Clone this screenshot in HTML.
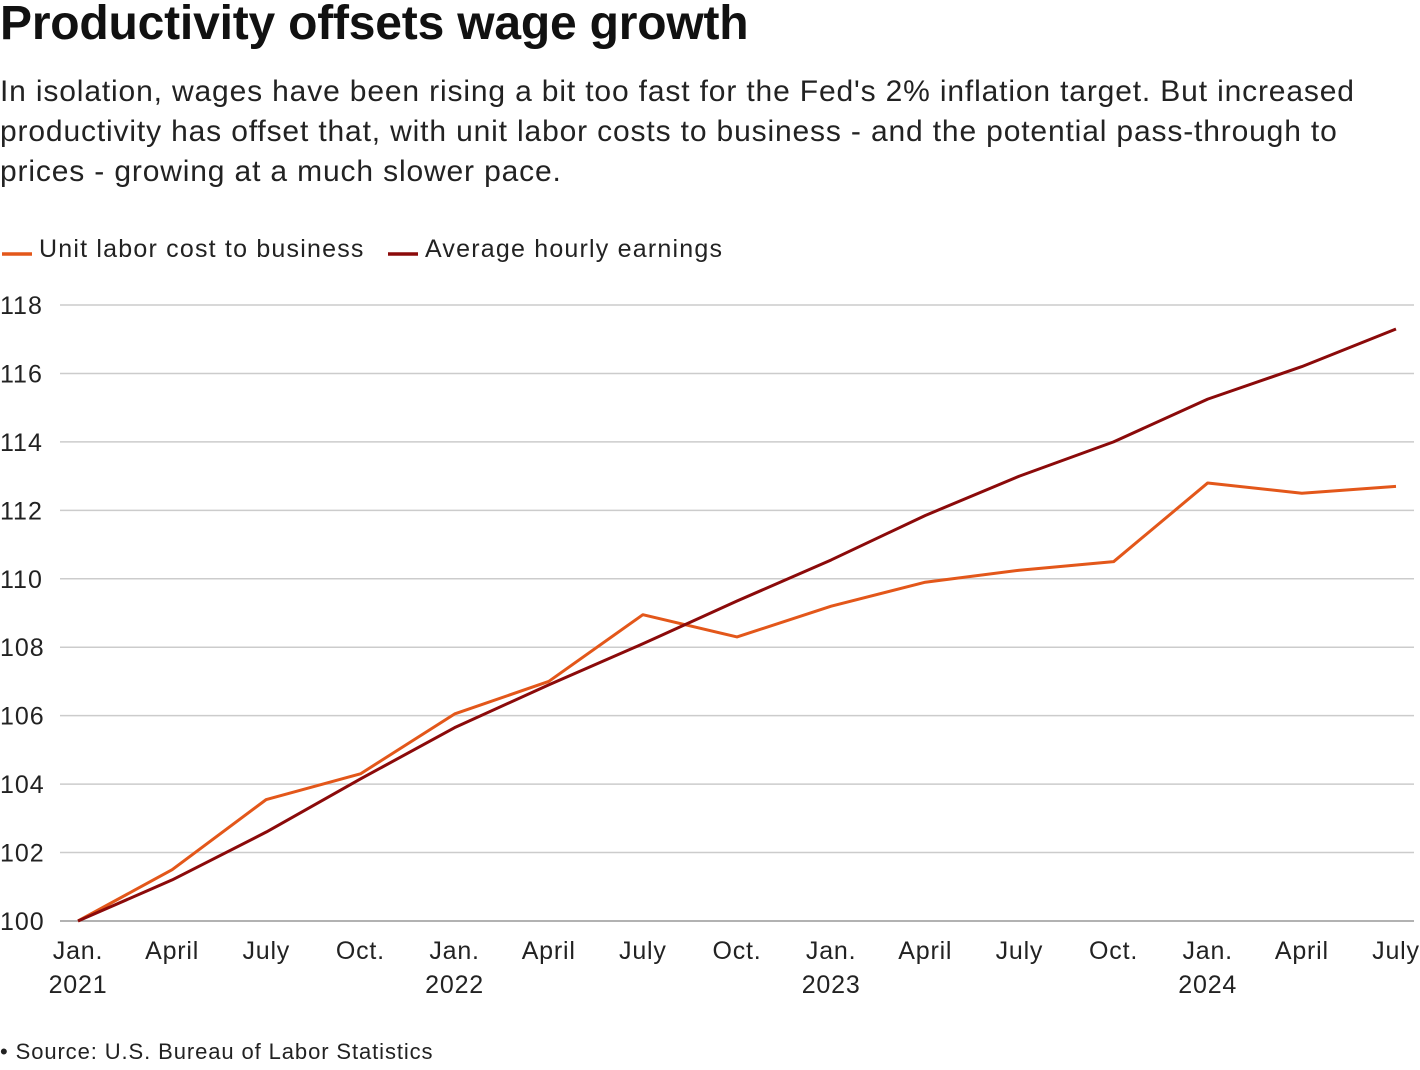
<!DOCTYPE html>
<html><head><meta charset="utf-8">
<style>
body{margin:0;background:#fff;font-family:"Liberation Sans",Arial,sans-serif;color:#111;}
#wrap{position:relative;width:1420px;height:1070px;overflow:hidden;}
h1{position:absolute;left:0;top:-4px;margin:0;font-size:48px;font-weight:bold;letter-spacing:-0.2px;}
.sub{position:absolute;left:0;top:72px;margin:0;font-size:30px;letter-spacing:0.85px;line-height:40px;color:#222;width:1400px;}
.src{position:absolute;left:0;top:1039px;font-size:22px;letter-spacing:0.9px;color:#222;}
svg{position:absolute;left:0;top:0;}
</style></head><body>
<div id="wrap">
<h1>Productivity offsets wage growth</h1>
<p class="sub">In isolation, wages have been rising a bit too fast for the Fed's 2% inflation target. But increased<br>productivity has offset that, with unit labor costs to business - and the potential pass-through to<br>prices - growing at a much slower pace.</p>
<svg id="chart" width="1420" height="1070"></svg>
<div class="src">• Source: U.S. Bureau of Labor Statistics</div>
</div>
<script>
const months=["Jan.","April","July","Oct.","Jan.","April","July","Oct.","Jan.","April","July","Oct.","Jan.","April","July"];
const years=["2021","","","","2022","","","","2023","","","","2024","",""];
const unitLabor=[100,101.5,103.55,104.3,106.05,107.0,108.95,108.3,109.2,109.9,110.25,110.5,112.8,112.5,112.7];
const hourlyEarnings=[100,101.2,102.6,104.15,105.65,106.9,108.1,109.35,110.55,111.85,113.0,114.0,115.25,116.2,117.3];
const yTicks=[100,102,104,106,108,110,112,114,116,118];
const NS="http://www.w3.org/2000/svg";
const svg=document.getElementById('chart');
const x=i=>78+i*(1396-78)/14;
const y=v=>921-(v-100)*(921-305)/18;
function mk(t,a){const e=document.createElementNS(NS,t);for(const k in a)e.setAttribute(k,a[k]);svg.appendChild(e);return e;}
yTicks.forEach(v=>{
  const l=mk('line',{x1:60,x2:1414,y1:y(v),y2:y(v),stroke:v===100?'#999':'#ccc','stroke-width':1.5});
  
  
  const t=mk('text',{x:0,y:y(v)+9,'font-size':25,'letter-spacing':1,fill:'#222'});t.textContent=v;
  
  
});
months.forEach((m,i)=>{
  const t=mk('text',{x:x(i),y:959,'font-size':25,'letter-spacing':0.8,fill:'#222','text-anchor':'middle'});t.textContent=m;
  
  
  if(years[i]){const u=mk('text',{x:x(i),y:993,'font-size':25,'letter-spacing':0.8,fill:'#222','text-anchor':'middle'});u.textContent=years[i];
  
  }
});
function series(d,c,n){
  const p=mk('polyline',{points:d.map((v,i)=>x(i)+','+y(v)).join(' '),fill:'none',stroke:c,'stroke-width':3,'stroke-linejoin':'round'});
  
  
}
series(unitLabor,'#e3571a','unit-labor-cost-line');
series(hourlyEarnings,'#8b0a0a','average-hourly-earnings-line');
[[0,'#e3571a','Unit labor cost to business','legend-unit-labor'],[386,'#8b0a0a','Average hourly earnings','legend-hourly-earnings']].forEach(([lx,c,txt,n])=>{
  const g=document.createElementNS(NS,'g');svg.appendChild(g);
  
  
  const l=document.createElementNS(NS,'line');
  [['x1',lx+2],['x2',lx+32],['y1',254],['y2',254],['stroke',c],['stroke-width',3.5]].forEach(([k,v])=>l.setAttribute(k,v));g.appendChild(l);
  const t=document.createElementNS(NS,'text');
  [['x',lx+39],['y',257],['font-size',25],['letter-spacing',1.2],['fill','#222']].forEach(([k,v])=>t.setAttribute(k,v));t.textContent=txt;g.appendChild(t);
});
</script>
</body></html>
